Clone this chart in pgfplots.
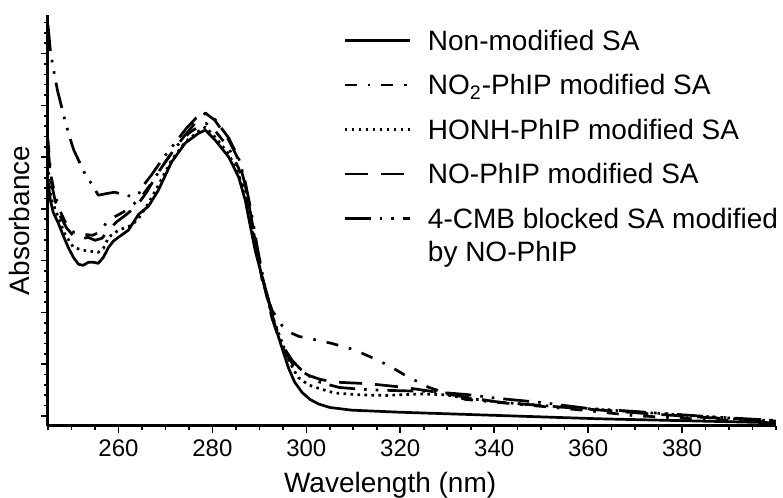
\documentclass[border=0pt]{standalone}
\usepackage{fontspec}
\setmainfont{Liberation Sans}
\usepackage{pgfplots}
\pgfplotsset{compat=1.18}
\begin{document}
\begin{tikzpicture}
\path[use as bounding box] (-24pt,-36pt) rectangle (367.5pt,213pt);
\begin{axis}[
  at={(0pt,0pt)}, anchor=south west,
  width=364pt, height=205.5pt, scale only axis,
  xmin=245, xmax=400, ymin=0, ymax=4.105,
  axis x line*=bottom, axis y line*=left,
  axis line style={line width=1.5pt, -},
  tick align=outside,
  major tick length=3.5pt, minor tick length=2pt,
  tick style={line width=0.8pt, black},
  xtick={260,280,...,380},
  minor xtick={245,250,...,400},
  ytick={0.1,0.617,1.134,1.651,2.168,2.685,3.202,3.719},
  minor ytick={0.2034,0.3068,...,4.1},
  yticklabels={},
  /pgf/number format/assume math mode=true,
  ticklabel style={font=\fontsize{12}{14.4}\selectfont},
  xlabel={Wavelength (nm)},
  xlabel style={font=\fontsize{14}{16.8}\selectfont, at={(axis description cs:0.47,-0.1436)}, anchor=center},
  ylabel={Absorbance},
  ylabel style={font=\fontsize{14}{16.8}\selectfont, at={(axis description cs:-0.0385,0.5)}, anchor=center},
  legend style={draw=none, fill=none, inner sep=0pt, at={(axis description cs:0.405,0.966)}, anchor=north west,
    font=\fontsize{14}{16.8}\selectfont, row sep=8.75pt, column sep=8.5pt,
    cells={anchor=base west},
    nodes={inner sep=0pt, text height=10.5pt, text depth=3pt}},
  legend image code/.code={\draw[#1] (0pt,5pt) -- (32.5pt,5pt);},
  every axis plot/.append style={black, line width=1.35pt, line join=round},
]
\addplot[solid] coordinates {
(245.0,2.455)(245.5,2.255)(246.1,2.135)(247.2,2.025)(248.3,1.895)(249.3,1.785)(250.4,1.685)(251.5,1.615)(252.5,1.605)(253.6,1.635)(254.7,1.635)(255.7,1.625)(256.8,1.685)(257.9,1.785)(258.9,1.845)(260.0,1.885)(262.1,1.955)(264.3,2.115)(266.4,2.195)(268.5,2.355)(271.3,2.635)(274.2,2.825)(277.1,2.925)(278.5,2.955)(280.6,2.855)(283.5,2.685)(285.6,2.485)(287.0,2.255)(287.7,2.085)(289.1,1.755)(290.5,1.505)(292.0,1.255)(293.0,1.055)(294.1,0.885)(296.2,0.58)(297.5,0.44)(299.1,0.335)(300.8,0.265)(302.6,0.22)(305,0.185)(309.7,0.158)(319.7,0.138)(341,0.105)(362.3,0.072)(400,0.032)
};
\addlegendentry{Non-modified SA}
\addplot[dash pattern=on 6pt off 5.5pt on 1.3pt off 5.5pt] coordinates {
(245.0,2.855)(245.6,2.505)(246.5,2.305)(247.5,2.155)(249,2.005)(250.5,1.935)(252.5,1.915)(254.5,1.905)(256,1.935)(257.5,2.035)(259,2.085)(261,2.135)(263,2.205)(265,2.295)(267,2.425)(269.5,2.605)(272,2.775)(275,2.925)(277.5,3.005)(278.6,3.025)(280.5,2.955)(283.5,2.775)(285.6,2.575)(287,2.335)(288.5,2.005)(289.8,1.675)(290.6,1.455)(292.7,1.155)(294.8,1.005)(296.5,0.935)(298.4,0.895)(302.6,0.855)(305.4,0.825)(310,0.765)(313.9,0.685)(317.5,0.605)(321.1,0.505)(326.1,0.385)(333.9,0.265)(348,0.205)(359.6,0.155)(369.4,0.105)(385,0.065)(400,0.04)
};
\addlegendentry{NO\textsubscript{2}-PhIP modified SA}
\addplot[dash pattern=on 1.3pt off 2.2pt] coordinates {
(245.0,2.605)(245.6,2.275)(247.2,2.085)(248.5,1.925)(250.4,1.785)(252.5,1.755)(255.7,1.735)(256.8,1.775)(257.9,1.885)(260,1.955)(262.8,2.005)(264.3,2.075)(266.4,2.225)(268.5,2.405)(271.3,2.655)(274.2,2.835)(277.1,2.945)(278.5,2.985)(280.6,2.885)(283.5,2.715)(285.6,2.515)(287,2.275)(288,2.055)(289.5,1.705)(291,1.405)(292.5,1.135)(294.1,0.925)(296.2,0.665)(297.3,0.56)(298.4,0.48)(300.5,0.41)(303,0.37)(306,0.33)(312,0.31)(317,0.305)(324,0.32)(330,0.31)(333,0.285)(341,0.238)(355,0.188)(369,0.145)(385,0.095)(400,0.05)
};
\addlegendentry{HONH-PhIP modified SA}
\addplot[dash pattern=on 11.5pt off 6.5pt] coordinates {
(245.0,2.805)(245.6,2.455)(246.5,2.255)(247.5,2.105)(249,1.975)(250.5,1.895)(252,1.865)(253.5,1.885)(255,1.855)(256.5,1.875)(257.9,1.955)(259.5,2.035)(261.5,2.105)(264,2.205)(266,2.335)(268.5,2.535)(271,2.705)(274,2.895)(276.5,3.035)(278.5,3.125)(280.5,3.055)(283.5,2.855)(285.6,2.655)(287,2.405)(288.2,2.105)(289.5,1.755)(291,1.405)(292.7,1.075)(294.5,0.825)(295.8,0.71)(297,0.625)(298.7,0.555)(300.5,0.505)(303,0.465)(306.2,0.438)(313.3,0.422)(320.4,0.388)(325.4,0.355)(333,0.295)(341,0.238)(358.8,0.172)(373,0.122)(385,0.085)(400,0.05)
};
\addlegendentry{NO-PhIP modified SA}
\addplot[dash pattern=on 13pt off 4.5pt on 1.3pt off 4.5pt on 1.3pt off 4.5pt] coordinates {
(245.0,4.005)(245.5,3.755)(245.9,3.635)(246.4,3.505)(247.0,3.355)(247.8,3.205)(248.6,3.055)(249.6,2.885)(250.5,2.755)(252,2.605)(253,2.505)(254.5,2.405)(255.7,2.305)(257.9,2.325)(259.2,2.335)(260.8,2.315)(262.5,2.295)(264.3,2.315)(265,2.385)(267,2.505)(269.5,2.675)(272,2.825)(274.5,2.975)(276.5,3.075)(278.5,3.125)(280.5,3.065)(283.5,2.875)(285.6,2.675)(287,2.435)(288.3,2.135)(289.6,1.775)(291,1.435)(292.7,1.105)(294.5,0.855)(295.8,0.74)(297,0.655)(298.5,0.58)(300,0.515)(303,0.435)(307,0.385)(312,0.365)(318,0.355)(326,0.345)(334,0.315)(341,0.275)(350,0.235)(360,0.175)(370,0.145)(385,0.095)(400,0.055)
};
\addlegendentry{\begin{tabular}[t]{@{}l@{}}4-CMB blocked SA modified\\by NO-PhIP\end{tabular}}
\end{axis}
\end{tikzpicture}
\end{document}
